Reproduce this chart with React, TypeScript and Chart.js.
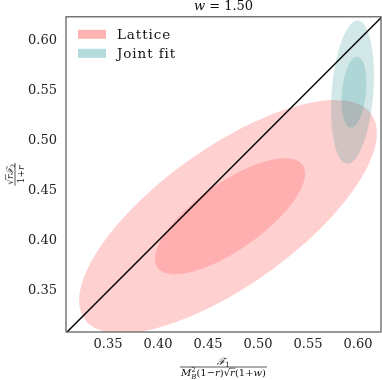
import React, { useEffect, useRef } from "react";
import { Chart, registerables } from "chart.js";

Chart.register(...registerables);

// ---- data ----
const xTickValues = [0.35, 0.4, 0.45, 0.5, 0.55, 0.6];
const yTickValues = [0.35, 0.4, 0.45, 0.5, 0.55, 0.6];
const xRange = [0.308, 0.623];
const yRange = [0.309, 0.624];
const diagonalX = [0.3, 0.63];
const diagonalY = [0.3, 0.63];

// confidence ellipses: centre, semi-axes (data units), rotation (deg)
const ellipseGroup = [0, 0, 1, 1]; // 0 = Lattice, 1 = Joint fit
const ellipseCx = [0.47, 0.472, 0.5945, 0.596];
const ellipseCy = [0.4242, 0.4247, 0.5487, 0.5487];
const ellipseA = [0.1762, 0.0888, 0.0717, 0.0356];
const ellipseB = [0.0686, 0.0333, 0.0208, 0.012];
const ellipseAngle = [35.5, 35.2, 85.6, 84.4];

const legendLabels = ["Lattice", "Joint fit"];
const groupFill = ["rgba(255,100,100,0.3)", "rgba(30,140,140,0.2)"];
const legendFill = ["#ffb3b3", "#b3dcdc"];
const titleVar = "w";
const titleValue = "1.50";

const SERIF = "'DejaVu Serif', serif";

type Piece = { t: string; s: number; it?: boolean; dy?: number; ol?: boolean; noAdv?: boolean };

function pFont(p: Piece) {
  return `${p.it ? "italic " : ""}${p.s}px ${SERIF}`;
}
function measurePieces(ctx: CanvasRenderingContext2D, ps: Piece[]) {
  let w = 0;
  for (const p of ps) {
    ctx.font = pFont(p);
    if (!p.noAdv) w += ctx.measureText(p.t).width;
  }
  return w;
}
function drawPieces(ctx: CanvasRenderingContext2D, ps: Piece[], x: number, y: number) {
  let cx = x;
  for (const p of ps) {
    ctx.font = pFont(p);
    const m = ctx.measureText(p.t).width;
    ctx.fillText(p.t, cx, y + (p.dy || 0));
    if (p.ol) {
      ctx.beginPath();
      ctx.lineWidth = 0.6;
      ctx.moveTo(cx - 0.5, y - p.s * 0.78);
      ctx.lineTo(cx + m + 0.5, y - p.s * 0.78);
      ctx.stroke();
    }
    if (!p.noAdv) cx += m;
  }
}
function drawFraction(ctx: CanvasRenderingContext2D, num: Piece[], den: Piece[], cx: number, cy: number) {
  const wn = measurePieces(ctx, num);
  const wd = measurePieces(ctx, den);
  const wl = Math.max(wn, wd) + 2;
  ctx.textBaseline = "alphabetic";
  ctx.textAlign = "left";
  drawPieces(ctx, num, cx - wn / 2, cy - 2.5);
  ctx.beginPath();
  ctx.lineWidth = 0.7;
  ctx.moveTo(cx - wl / 2, cy);
  ctx.lineTo(cx + wl / 2, cy);
  ctx.stroke();
  drawPieces(ctx, den, cx - wd / 2, cy + 9);
}

const ellipsePlugin = {
  id: "ellipses",
  beforeDatasetsDraw(chart: any) {
    const { ctx, chartArea, scales } = chart;
    const xs = scales.x;
    const ys = scales.y;
    ctx.save();
    ctx.beginPath();
    ctx.rect(chartArea.left, chartArea.top, chartArea.right - chartArea.left, chartArea.bottom - chartArea.top);
    ctx.clip();
    for (let i = 0; i < ellipseCx.length; i++) {
      const th = (ellipseAngle[i] * Math.PI) / 180;
      ctx.beginPath();
      const n = 120;
      for (let k = 0; k <= n; k++) {
        const t = (k / n) * Math.PI * 2;
        const dx = ellipseA[i] * Math.cos(th) * Math.cos(t) - ellipseB[i] * Math.sin(th) * Math.sin(t);
        const dy = ellipseA[i] * Math.sin(th) * Math.cos(t) + ellipseB[i] * Math.cos(th) * Math.sin(t);
        const px = xs.getPixelForValue(ellipseCx[i] + dx);
        const py = ys.getPixelForValue(ellipseCy[i] + dy);
        if (k === 0) ctx.moveTo(px, py);
        else ctx.lineTo(px, py);
      }
      ctx.closePath();
      ctx.fillStyle = groupFill[ellipseGroup[i]];
      ctx.fill();
    }
    ctx.restore();
  },
  afterDatasetsDraw(chart: any) {
    const { ctx, chartArea } = chart;
    ctx.save();
    // frame
    ctx.strokeStyle = "#555";
    ctx.lineWidth = 1.2;
    ctx.strokeRect(chartArea.left, chartArea.top, chartArea.right - chartArea.left, chartArea.bottom - chartArea.top);
    // legend
    const lx = chartArea.left + 12;
    for (let i = 0; i < legendLabels.length; i++) {
      const y = chartArea.top + 13 + i * 19;
      ctx.fillStyle = legendFill[i];
      ctx.fillRect(lx, y, 28, 9);
      ctx.fillStyle = "#111";
      ctx.font = `13.5px ${SERIF}`;
      ctx.textBaseline = "alphabetic";
      ctx.textAlign = "left";
      (ctx as any).letterSpacing = "0.9px";
      ctx.fillText(legendLabels[i], lx + 39, y + 9);
      (ctx as any).letterSpacing = "0px";
    }
    ctx.restore();
  },
  afterDraw(chart: any) {
    const { ctx, chartArea } = chart;
    ctx.save();
    ctx.fillStyle = "#111";
    ctx.strokeStyle = "#111";
    // title
    const title: Piece[] = [
      { t: titleVar, s: 13, it: true },
      { t: " = ", s: 13 },
      { t: titleValue, s: 13 },
    ];
    const tw = measurePieces(ctx, title);
    ctx.textBaseline = "alphabetic";
    ctx.textAlign = "left";
    drawPieces(ctx, title, (chartArea.left + chartArea.right) / 2 - tw / 2, 10);
    // x label
    const xNum: Piece[] = [
      { t: "ℱ", s: 10, it: true },
      { t: "1", s: 7, dy: 2 },
    ];
    const xDen: Piece[] = [
      { t: "M", s: 10, it: true },
      { t: "2", s: 7, dy: -4, noAdv: true },
      { t: "B", s: 7, it: true, dy: 2.5 },
      { t: "(1−", s: 10 },
      { t: "r", s: 10, it: true },
      { t: ")√", s: 10 },
      { t: "r", s: 10, it: true, ol: true },
      { t: "(1+", s: 10 },
      { t: "w", s: 10, it: true },
      { t: ")", s: 10 },
    ];
    drawFraction(ctx, xNum, xDen, (chartArea.left + chartArea.right) / 2, 367);
    // y label
    const yNum: Piece[] = [
      { t: "√", s: 9 },
      { t: "r", s: 9, it: true, ol: true },
      { t: "ℱ", s: 9, it: true },
      { t: "2", s: 6, dy: 2 },
    ];
    const yDen: Piece[] = [
      { t: "1+", s: 9 },
      { t: "r", s: 9, it: true },
    ];
    ctx.translate(15, (chartArea.top + chartArea.bottom) / 2);
    ctx.rotate(-Math.PI / 2);
    drawFraction(ctx, yNum, yDen, 0, 0);
    ctx.restore();
  },
};

export default function App() {
  const ref = useRef<HTMLCanvasElement | null>(null);
  useEffect(() => {
    document.body.style.margin = "0";
    if (!ref.current) return;
    const chart = new Chart(ref.current, {
      type: "scatter",
      data: {
        datasets: [
          {
            label: "y = x",
            data: diagonalX.map((x, i) => ({ x, y: diagonalY[i] })),
            showLine: true,
            borderColor: "#000",
            borderWidth: 1.5,
            pointRadius: 0,
            fill: false,
          },
        ],
      },
      options: {
        animation: false,
        responsive: false,
        devicePixelRatio: 1,
        layout: { padding: { top: 15, right: 1, left: 0, bottom: 0 } },
        plugins: { legend: { display: false }, title: { display: false }, tooltip: { enabled: false } },
        scales: {
          x: {
            type: "linear",
            min: xRange[0],
            max: xRange[1],
            grid: { display: false, drawTicks: false },
            border: { display: false },
            ticks: {
              padding: 5,
              color: "#222",
              font: { family: SERIF, size: 13 },
              callback: (v: any) => Number(v).toFixed(2),
            },
            afterBuildTicks: (s: any) => {
              s.ticks = xTickValues.map((v) => ({ value: v }));
            },
            afterFit: (s: any) => {
              s.height = 48;
            },
          },
          y: {
            type: "linear",
            min: yRange[0],
            max: yRange[1],
            grid: { display: false, drawTicks: false },
            border: { display: false },
            ticks: {
              padding: 9,
              color: "#222",
              font: { family: SERIF, size: 13 },
              callback: (v: any) => Number(v).toFixed(2),
            },
            afterBuildTicks: (s: any) => {
              s.ticks = yTickValues.map((v) => ({ value: v }));
            },
            afterFit: (s: any) => {
              s.width = 66;
            },
          },
        },
      } as any,
      plugins: [ellipsePlugin],
    });
    return () => chart.destroy();
  }, []);
  return (
    <div style={{ position: "absolute", left: 0, top: 0, width: 382, height: 380 }}>
      <canvas ref={ref} width={382} height={380} style={{ width: 382, height: 380 }} />
    </div>
  );
}
